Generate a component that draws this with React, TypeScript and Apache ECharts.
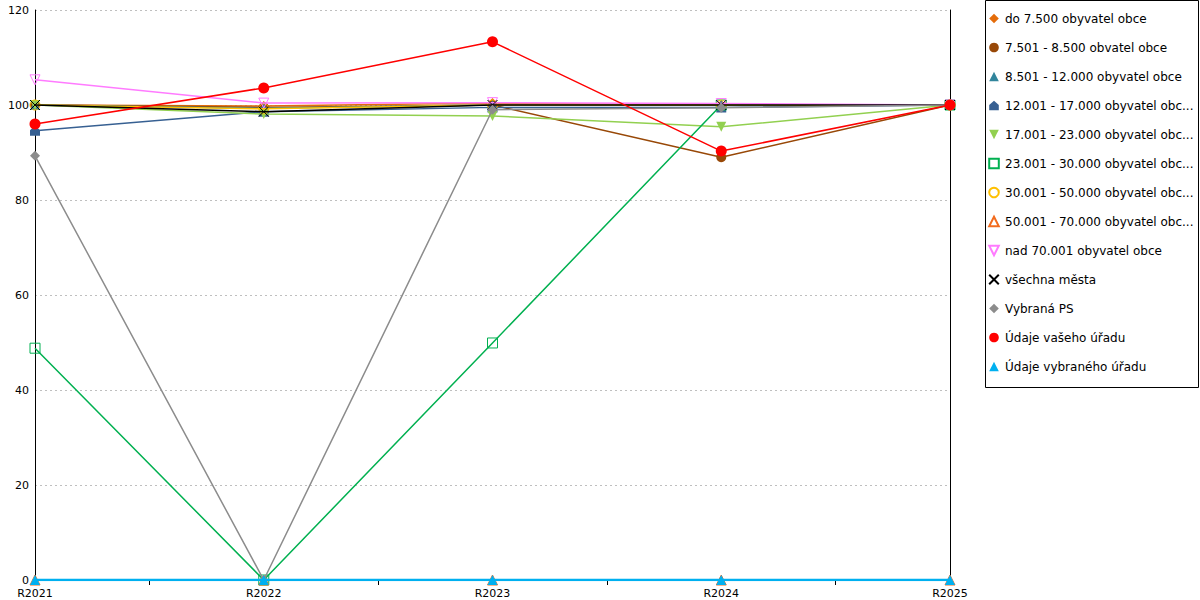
import React, { useEffect, useRef } from "react";
import * as echarts from "echarts";

const categories = ["R2021", "R2022", "R2023", "R2024", "R2025"];
const yTicks = [0, 20, 40, 60, 80, 100, 120];

const names = [
  "do 7.500 obyvatel obce",
  "7.501 - 8.500 obvatel obce",
  "8.501 - 12.000 obyvatel obce",
  "12.001 - 17.000 obyvatel obce",
  "17.001 - 23.000 obyvatel obce",
  "23.001 - 30.000 obyvatel obce",
  "30.001 - 50.000 obyvatel obce",
  "50.001 - 70.000 obyvatel obce",
  "nad 70.001 obyvatel obce",
  "všechna města",
  "Vybraná PS",
  "Údaje vašeho úřadu",
  "Údaje vybraného úřadu",
];

const legendLabels = [
  "do 7.500 obyvatel obce",
  "7.501 - 8.500 obvatel obce",
  "8.501 - 12.000 obyvatel obce",
  "12.001 - 17.000 obyvatel obc...",
  "17.001 - 23.000 obyvatel obc...",
  "23.001 - 30.000 obyvatel obc...",
  "30.001 - 50.000 obyvatel obc...",
  "50.001 - 70.000 obyvatel obc...",
  "nad 70.001 obyvatel obce",
  "všechna města",
  "Vybraná PS",
  "Údaje vašeho úřadu",
  "Údaje vybraného úřadu",
];

const do7500 = [100, 99.8, 100.4, 100, 100];
const r7501 = [100, 99.5, 100, 89, 100];
const r8501 = [100, 99.3, 100, 100, 100];
const r12001 = [94.6, 98.6, 99.5, 99.5, 100];
const r17001 = [100, 98.1, 97.7, 95.4, 100];
const r23001 = [48.8, 0, 49.9, 100, 100];
const r30001 = [100, 99.2, 100, 100, 100];
const r50001 = [0, 0, 0, 0, 0];
const nad70001 = [105.3, 100.4, 100.5, 100.3, 100];
const vsechnaMesta = [100, 98.6, 100, 100, 100];
const vybranaPS = [89.3, 0, 99.0, 99.4, 100];
const vasUrad = [96, 103.6, 113.3, 90.3, 100];
const vybranyUrad = [0, 0, 0, 0, 0];

const values = [
  do7500, r7501, r8501, r12001, r17001, r23001, r30001, r50001,
  nad70001, vsechnaMesta, vybranaPS, vasUrad, vybranyUrad,
];

const colors = [
  "#E46C0A", "#984807", "#31859C", "#376092", "#92D050", "#00B050",
  "#FFC000", "#F26B1D", "#FF7BFF", "#000000", "#8C8C8C", "#FF0000", "#00B0F0",
];

const HOUSE = "path://M5,0 L10,4.5 L10,10 L0,10 L0,4.5 Z";
const XMARK = "path://M0,0 L10,10 M10,0 L0,10";

const symbols = [
  "diamond", "circle", "triangle", HOUSE, "triangle", "rect",
  "circle", "triangle", "triangle", XMARK, "diamond", "circle", "triangle",
];
const hollow = [false, false, false, false, false, true, true, true, true, true, false, false, false];
const rotations = [0, 0, 0, 0, 180, 0, 0, 0, 180, 0, 0, 0, 0];
const sizes = [10, 10, 10, 10, 10, 10, 10, 10, 10, 10, 10, 11, 10];
const widths = [1.5, 1.5, 1.5, 1.5, 1.5, 1.5, 1.5, 1.5, 1.5, 1.5, 1.5, 1.5, 2.5];

const FONT = "DejaVu Sans";

export default function App() {
  const ref = useRef<HTMLDivElement>(null);
  useEffect(() => {
    if (!ref.current) return;
    const chart = echarts.init(ref.current, null, { renderer: "svg" });
    const series = names.map((name, i) => ({
      name,
      type: "line",
      data: values[i].map((v, k) => [k, v]),
      symbol: symbols[i],
      symbolSize: sizes[i],
      symbolRotate: rotations[i],
      legendIcon: symbols[i],
      showAllSymbol: true,
      lineStyle: { color: colors[i], width: widths[i] },
      itemStyle: hollow[i]
        ? { color: "rgba(255,255,255,0)", borderColor: colors[i], borderWidth: 1 }
        : { color: colors[i], borderWidth: 0 },
      emphasis: { disabled: true },
      z: 2 + i,
    }));
    const legendMap: Record<string, string> = {};
    names.forEach((n, i) => (legendMap[n] = legendLabels[i]));
    chart.setOption({
      animation: false,
      backgroundColor: "#ffffff",
      textStyle: { fontFamily: FONT },
      grid: { left: 35, right: 250, top: 10, bottom: 20, containLabel: false },
      xAxis: {
        type: "value",
        min: 0,
        max: categories.length - 1,
        interval: 1,
        axisLine: { show: true, lineStyle: { color: "#000", width: 1 } },
        axisTick: {
          show: true,
          length: 5,
          lineStyle: { color: "#000" },
          customValues: [0.5, 1.5, 2.5, 3.5],
        },
        axisLabel: {
          color: "#000",
          fontSize: 11,
          fontFamily: FONT,
          margin: 8,
          customValues: categories.map((_, i) => i),
          formatter: (v: number) => categories[Math.round(v)] ?? "",
        },
        splitLine: { show: false },
      },
      yAxis: [
        {
          type: "value",
          min: 0,
          max: 120,
          interval: 20,
          axisLine: { show: true, lineStyle: { color: "#000", width: 1 } },
          axisTick: { show: false },
          axisLabel: {
            color: "#000",
            fontSize: 11,
            fontFamily: FONT,
            margin: 6,
            customValues: yTicks,
          },
          splitLine: {
            show: true,
            lineStyle: { color: "#BFBFBF", type: [2, 3], width: 1 },
          },
        },
        {
          type: "value",
          position: "right",
          min: 0,
          max: 120,
          interval: 20,
          axisLine: { show: true, lineStyle: { color: "#000", width: 1 } },
          axisTick: { show: false },
          axisLabel: { show: false },
          splitLine: { show: false },
        },
      ],
      legend: {
        orient: "vertical",
        left: 988,
        top: 10,
        itemWidth: 12,
        itemHeight: 12,
        itemGap: 12,
        padding: 0,
        selectedMode: false,
        lineStyle: { width: 0, opacity: 0 },
        textStyle: { fontSize: 12, fontFamily: FONT, color: "#000", lineHeight: 17 },
        formatter: (n: string) => legendMap[n] ?? n,
        data: names,
      },
      graphic: [
        {
          type: "rect",
          shape: { x: 985.5, y: 0.5, width: 213, height: 387 },
          style: { fill: "none", stroke: "#000", lineWidth: 1 },
          silent: true,
          z: -1,
        },
      ],
      series,
    });
    return () => chart.dispose();
  }, []);
  return (
    <div
      ref={ref}
      style={{ position: "fixed", left: 0, top: 0, width: 1200, height: 600 }}
    />
  );
}
